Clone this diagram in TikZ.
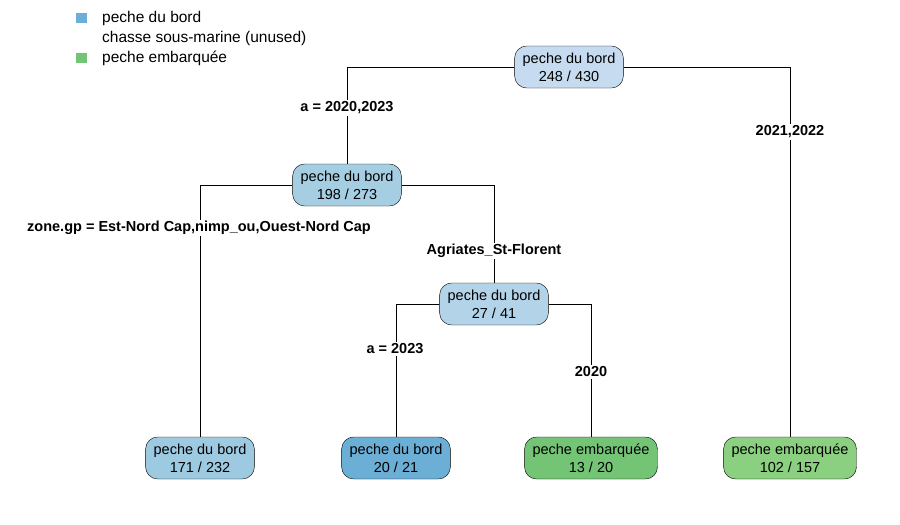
\documentclass[tikz,border=0pt]{standalone}
\usepackage{fontspec}
\setmainfont{Liberation Sans}
\usetikzlibrary{positioning}
\definecolor{bordA}{HTML}{C6DBEF}
\definecolor{bordB}{HTML}{A6CEE3}
\definecolor{bordC}{HTML}{B3D3E8}
\definecolor{bordD}{HTML}{9ECAE1}
\definecolor{bordE}{HTML}{6BAED6}
\definecolor{embA}{HTML}{74C476}
\definecolor{embB}{HTML}{8BCF80}
\begin{document}
\begin{tikzpicture}[x=1pt,y=-1pt,
    box/.style={draw,rounded corners=12pt,align=center,minimum height=42pt,inner xsep=8pt,font=\fontsize{14.5}{18}\selectfont},
    lab/.style={fill=white,inner sep=1.5pt,font=\bfseries\fontsize{14.5}{17}\selectfont},
    key/.style={anchor=west,inner sep=0pt,font=\fontsize{15.5}{18}\selectfont}]
  \useasboundingbox (0,0) rectangle (900,525);
  % legend
  \fill[bordE] (76,13) rectangle (87,23);
  \fill[embA] (76,53) rectangle (87,63);
  \node[key] (k1) at (102,18) {peche du bord};
  \node[key] (k2) at (102,38) {chasse sous-marine (unused)};
  \node[key] (k3) at (102,58) {peche embarquée};
  % tree
  \node[box,fill=bordA] (root) at (569,67) {peche du bord\\248 / 430};
  \node[box,fill=bordB] (b198) at (347,185) {peche du bord\\198 / 273};
  \node[box,fill=bordC] (b27) at (494,304) {peche du bord\\27 / 41};
  \node[box,fill=bordD] (b171) at (200,458) {peche du bord\\171 / 232};
  \node[box,fill=bordE] (b20) at (396,458) {peche du bord\\20 / 21};
  \node[box,fill=embA] (e13) at (591,458) {peche embarquée\\13 / 20};
  \node[box,fill=embB] (e102) at (790,458) {peche embarquée\\102 / 157};
  \draw (root.west) -| (b198.north);
  \draw (root.east) -| (e102.north);
  \draw (b198.west) -| (b171.north);
  \draw (b198.east) -| (b27.north);
  \draw (b27.west) -| (b20.north);
  \draw (b27.east) -| (e13.north);
  % split labels
  \node[lab] (s1) at (347,108) {a = 2020,2023};
  \node[lab] (s2) at (790,132) {2021,2022};
  \node[lab] (s3) at (199,228) {zone.gp = Est-Nord Cap,nimp\_ou,Ouest-Nord Cap};
  \node[lab] (s4) at (494,251) {Agriates\_St-Florent};
  \node[lab] (s5) at (395,349) {a = 2023};
  \node[lab] (s6) at (591,372) {2020};
\end{tikzpicture}
\end{document}
